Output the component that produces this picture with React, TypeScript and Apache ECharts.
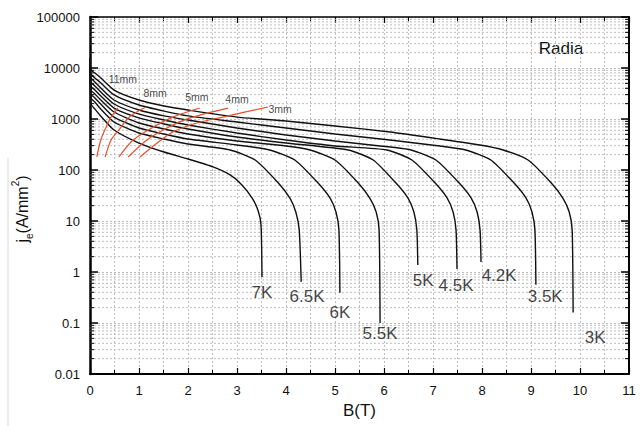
import React, { useEffect, useRef } from "react";
import * as echarts from "echarts";

// ---- data: critical current density curves j_e(B) for each temperature ----
const temps = ["3K", "3.5K", "4.2K", "4.5K", "5K", "5.5K", "6K", "6.5K", "7K"];

const curve3K = [[0, 15700], [0.02, 9140], [0.1, 7980], [0.2, 6660], [0.49, 3700], [1.0, 2360], [1.51, 1800], [2.0, 1500], [3.0, 1090], [4.0, 914], [5.0, 729], [6.12, 556], [7.14, 405], [7.96, 309], [8.43, 247], [8.94, 157], [9.41, 56], [9.65, 28], [9.78, 15], [9.84, 6.7], [9.86, 0.16]];
const curve3_5K = [[0, 15700], [0.02, 7630], [0.1, 6370], [0.2, 5310], [0.49, 2960], [1.0, 1880], [1.51, 1430], [2.0, 1150], [3.0, 873], [4.0, 666], [5.0, 508], [6.12, 387], [7.14, 296], [7.67, 247], [8.18, 157], [8.65, 56], [8.9, 28], [9.02, 15], [9.08, 6.7], [9.1, 0.56]];
const curve4_2K = [[0, 15700], [0.02, 6370], [0.1, 5310], [0.2, 4240], [0.49, 2360], [1.0, 1500], [1.51, 1150], [2.0, 955], [3.0, 666], [4.0, 486], [5.0, 370], [5.92, 296], [6.55, 247], [7.06, 157], [7.53, 56], [7.78, 28], [7.9, 15], [7.96, 6.7], [7.98, 1.57]];
const curve4_5K = [[0, 15700], [0.02, 5310], [0.1, 4430], [0.2, 3540], [0.49, 1970], [1.0, 1250], [1.51, 955], [2.0, 763], [3.0, 531], [4.0, 387], [5.0, 296], [6.06, 247], [6.57, 157], [7.04, 56], [7.29, 28], [7.41, 15], [7.47, 6.7], [7.49, 1.15]];
const curve5K = [[0, 15700], [0.02, 4430], [0.1, 3700], [0.2, 2960], [0.49, 1640], [1.0, 1050], [1.51, 798], [2.0, 637], [3.0, 444], [4.0, 338], [5.27, 247], [5.78, 157], [6.24, 56], [6.49, 28], [6.61, 15], [6.67, 6.7], [6.69, 1.37]];
const curve5_5K = [[0, 15700], [0.02, 3700], [0.1, 3090], [0.2, 2470], [0.49, 1370], [1.0, 835], [1.51, 637], [2.0, 508], [3.0, 370], [4.0, 296], [4.49, 247], [5.0, 157], [5.47, 56], [5.71, 28], [5.84, 15], [5.9, 6.7], [5.92, 0.1]];
const curve6K = [[0, 15700], [0.02, 3090], [0.1, 2580], [0.2, 2060], [0.49, 1090], [1.0, 666], [1.51, 508], [2.0, 405], [3.0, 309], [3.67, 247], [4.18, 157], [4.65, 56], [4.9, 28], [5.02, 15], [5.08, 6.7], [5.1, 0.39]];
const curve6_5K = [[0, 15700], [0.02, 2580], [0.1, 2150], [0.2, 1640], [0.49, 873], [1.0, 531], [1.51, 405], [2.0, 323], [2.86, 247], [3.37, 157], [3.84, 56], [4.08, 28], [4.2, 15], [4.27, 6.7], [4.31, 0.64]];
const curve7K = [[0, 15700], [0.02, 1970], [0.1, 1570], [0.2, 1200], [0.49, 609], [1.0, 338], [1.51, 225], [2.0, 164], [2.51, 115], [2.86, 80], [3.1, 51], [3.31, 28], [3.43, 16], [3.49, 8.4], [3.51, 0.8]];
const tempCurves = [curve3K, curve3_5K, curve4_2K, curve4_5K, curve5K, curve5_5K, curve6K, curve6_5K, curve7K];

// label anchor [B, j] for each temperature
const tempLabelPos = [[10.31, 0.051], [9.29, 0.338], [8.35, 0.873], [7.47, 0.556], [6.8, 0.667], [5.92, 0.061], [5.1, 0.164], [4.43, 0.324], [3.51, 0.405]];

// ---- data: coil radius (load) lines ----
const radii = ["11mm", "8mm", "5mm", "4mm", "3mm"];
const r11mm = [[0.14, 180], [0.22, 387], [0.33, 697], [0.43, 1090], [0.57, 1640]];
const r8mm = [[0.31, 180], [0.43, 387], [0.59, 609], [0.8, 1090], [1.14, 1720]];
const r5mm = [[0.59, 180], [0.88, 387], [1.29, 697], [1.69, 1090], [2.24, 1640]];
const r4mm = [[0.78, 180], [1.16, 387], [1.57, 666], [2.04, 1050], [2.82, 1640]];
const r3mm = [[1.02, 180], [1.37, 338], [1.69, 556], [2.18, 835], [2.71, 1090], [3.63, 1720]];
const radiusLines = [r11mm, r8mm, r5mm, r4mm, r3mm];
const radiusLabelPos = [[0.67, 6090], [1.33, 3240], [2.18, 2700], [3.0, 2470], [3.88, 1570]];

// ---- axes ----
const xMin = 0;
const xMax = 11;
const yMin = 0.01;
const yMax = 100000;
const decades = [0.01, 0.1, 1, 10, 100, 1000, 10000];
const minorMultipliers = [2, 3, 4, 5, 6, 7, 8, 9];

const FONT = "'Liberation Sans', Arial, Helvetica, sans-serif";
const GRID_COLOR = "#bdbdbd";

function fmt(v: number) {
  return String(Number(v.toPrecision(6)));
}

export default function App() {
  const ref = useRef<HTMLDivElement>(null);

  useEffect(() => {
    document.body.style.margin = "0";
    if (!ref.current) return;
    const chart = echarts.init(ref.current, undefined, { renderer: "svg" });

    const minorValues: number[] = [];
    decades.forEach((d) => minorMultipliers.forEach((m) => minorValues.push(d * m)));

    const series: any[] = [];

    // minor log grid lines and minor ticks on both y sides
    series.push({
      type: "custom",
      silent: true,
      clip: false,
      z: 1,
      data: minorValues.map((v) => [xMin, v]),
      renderItem: (_p: any, api: any) => {
        const v = api.value(1);
        const a = api.coord([xMin, v]);
        const b = api.coord([xMax, v]);
        return {
          type: "group",
          children: [
            { type: "line", shape: { x1: a[0], y1: a[1], x2: b[0], y2: b[1] }, style: { stroke: GRID_COLOR, lineWidth: 1, lineDash: [2, 2] } },
            { type: "line", shape: { x1: a[0], y1: a[1], x2: a[0] + 4, y2: a[1] }, style: { stroke: "#000", lineWidth: 1 } },
            { type: "line", shape: { x1: b[0], y1: b[1], x2: b[0] - 4, y2: b[1] }, style: { stroke: "#000", lineWidth: 1 } },
          ],
        };
      },
    });

    tempCurves.forEach((c, i) => {
      series.push({
        name: temps[i],
        type: "line",
        data: c,
        symbol: "none",
        smooth: 0.2,
        z: 3,
        lineStyle: { color: "#111", width: 1.4 },
      });
    });

    radiusLines.forEach((c, i) => {
      series.push({
        name: radii[i],
        type: "line",
        data: c,
        symbol: "none",
        smooth: 0.3,
        z: 4,
        lineStyle: { color: "#e8502c", width: 1.2 },
      });
    });

    series.push({
      type: "scatter",
      silent: true,
      symbolSize: 1,
      itemStyle: { color: "rgba(0,0,0,0)" },
      z: 5,
      data: tempLabelPos.map((p, i) => [p[0], p[1], temps[i]]),
      label: {
        show: true,
        position: "inside",
        formatter: (p: any) => p.data[2],
        color: "#111",
        fontSize: 17,
        fontFamily: FONT,
      },
    });

    series.push({
      type: "scatter",
      silent: true,
      symbolSize: 1,
      itemStyle: { color: "rgba(0,0,0,0)" },
      z: 5,
      data: radiusLabelPos.map((p, i) => [p[0], p[1], radii[i]]),
      label: {
        show: true,
        position: "inside",
        formatter: (p: any) => p.data[2],
        color: "#111",
        fontSize: 10.5,
        fontFamily: FONT,
      },
    });

    const dotted = { color: GRID_COLOR, width: 1, type: [2, 2] as any };

    chart.setOption({
      animation: false,
      backgroundColor: "#fff",
      textStyle: { fontFamily: FONT },
      grid: { left: 90, right: 13, top: 17, bottom: 52 },
      xAxis: [
        {
          type: "value",
          min: xMin,
          max: xMax,
          interval: 1,
          position: "bottom",
          name: "B(T)",
          nameLocation: "middle",
          nameGap: 27,
          nameTextStyle: { fontSize: 17, color: "#111", fontFamily: FONT },
          axisLine: { show: true, onZero: false, lineStyle: { color: "#000", width: 2 } },
          axisTick: { show: true, inside: true, length: 6, lineStyle: { color: "#000", width: 1.2 } },
          minorTick: { show: true, splitNumber: 2, length: 4, lineStyle: { color: "#000", width: 1 } },
          splitLine: { show: true, lineStyle: dotted },
          minorSplitLine: { show: true, lineStyle: dotted },
          axisLabel: { color: "#111", fontSize: 13, margin: 10, fontFamily: FONT },
        },
        {
          type: "value",
          min: xMin,
          max: xMax,
          interval: 1,
          position: "top",
          axisLine: { show: true, onZero: false, lineStyle: { color: "#000", width: 1.5 } },
          axisTick: { show: true, inside: true, length: 6, lineStyle: { color: "#000", width: 1.2 } },
          minorTick: { show: true, splitNumber: 2, length: 4, lineStyle: { color: "#000", width: 1 } },
          splitLine: { show: false },
          axisLabel: { show: false },
        },
      ],
      yAxis: [
        {
          type: "log",
          logBase: 10,
          min: yMin,
          max: yMax,
          splitNumber: 7,
          position: "left",
          axisLine: { show: true, onZero: false, lineStyle: { color: "#000", width: 2.5 } },
          axisTick: { show: true, inside: true, length: 8, lineStyle: { color: "#000", width: 1.5 } },
          splitLine: { show: true, lineStyle: dotted },
          axisLabel: { color: "#111", fontSize: 13, margin: 10, fontFamily: FONT, formatter: (v: number) => fmt(v) },
        },
        {
          type: "log",
          logBase: 10,
          min: yMin,
          max: yMax,
          splitNumber: 7,
          position: "right",
          axisLine: { show: true, onZero: false, lineStyle: { color: "#000", width: 2 } },
          axisTick: { show: true, inside: true, length: 8, lineStyle: { color: "#000", width: 1.5 } },
          splitLine: { show: false },
          axisLabel: { show: false },
        },
      ],
      graphic: [
        {
          type: "text",
          x: 22,
          y: 209,
          rotation: Math.PI / 2,
          style: {
            text: "{a|j}{b|e}{a|(A/mm}{c|2}{a|)}",
            align: "center",
            verticalAlign: "middle",
            fill: "#111",
            rich: {
              a: { fontSize: 16, lineHeight: 24, fontFamily: FONT, fill: "#111", verticalAlign: "middle" },
              b: { fontSize: 10, lineHeight: 10, fontFamily: FONT, fill: "#111", verticalAlign: "bottom" },
              c: { fontSize: 10, lineHeight: 10, fontFamily: FONT, fill: "#111", verticalAlign: "top" },
            },
          },
        },
        {
          type: "text",
          x: 561,
          y: 48,
          style: { text: "Radia", fontSize: 17, fontFamily: FONT, fill: "#111", align: "center", verticalAlign: "middle" },
        },
        {
          type: "line",
          shape: { x1: 8, y1: 158, x2: 8, y2: 426 },
          style: { stroke: "#e6e6e6", lineWidth: 1.5 },
        },
      ],
      series,
    });

    return () => chart.dispose();
  }, []);

  return <div ref={ref} style={{ width: 642, height: 426 }} />;
}
